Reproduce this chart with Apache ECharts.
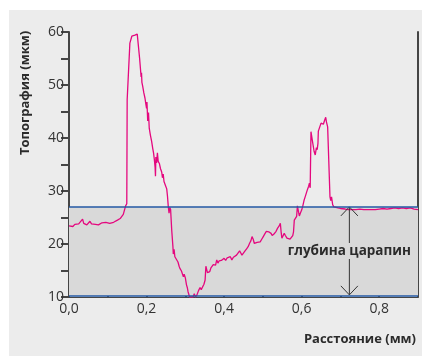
<!DOCTYPE html>
<html>
<head>
<meta charset="utf-8">
<script src="https://cdn.jsdelivr.net/npm/echarts@6/dist/echarts.min.js"></script>
<style>
html,body{margin:0;padding:0;background:#ffffff;}
#chart{width:422px;height:356px;}
</style>
</head>
<body>
<div id="chart"></div>
<script>
// ---- data ----
const xTitle = 'Расстояние (мм)';
const yTitle = 'Топография (мкм)';
const depthLabel = 'глубина царапин';

const distance = [
0.000,0.005,0.010,0.015,0.020,0.025,0.030,0.035,0.038,0.042,0.046,0.050,0.054,0.058,0.063,0.068,0.072,0.076,0.080,0.085,
0.090,0.095,0.100,0.105,0.110,0.115,0.120,0.125,0.128,0.132,0.136,0.140,0.143,0.146,0.149,0.150,0.157,0.160,0.162,0.166,
0.170,0.173,0.176,0.179,0.181,0.182,0.186,0.187,0.188,0.190,0.193,0.196,0.198,0.200,0.201,0.203,0.205,0.207,0.210,0.213,
0.216,0.218,0.220,0.222,0.223,0.224,0.226,0.228,0.230,0.233,0.236,0.239,0.241,0.243,0.245,0.249,0.252,0.254,0.256,0.258,
0.260,0.262,0.265,0.268,0.269,0.271,0.273,0.276,0.278,0.281,0.284,0.286,0.288,0.290,0.293,0.295,0.297,0.300,0.303,0.305,
0.307,0.309,0.311,0.315,0.320,0.323,0.326,0.330,0.334,0.338,0.341,0.345,0.348,0.351,0.353,0.355,0.357,0.360,0.363,0.366,
0.369,0.372,0.375,0.378,0.381,0.384,0.387,0.390,0.393,0.396,0.400,0.404,0.408,0.412,0.416,0.420,0.424,0.428,0.432,0.436,
0.440,0.443,0.446,0.450,0.454,0.458,0.462,0.466,0.469,0.472,0.475,0.478,0.481,0.485,0.489,0.493,0.497,0.501,0.505,0.509,
0.512,0.515,0.518,0.521,0.524,0.527,0.530,0.534,0.538,0.542,0.545,0.547,0.549,0.552,0.555,0.558,0.562,0.566,0.570,0.574,
0.577,0.579,0.581,0.584,0.587,0.589,0.592,0.594,0.597,0.600,0.603,0.606,0.609,0.612,0.615,0.618,0.620,0.622,0.624,0.628,
0.632,0.635,0.638,0.640,0.642,0.643,0.646,0.648,0.650,0.653,0.656,0.659,0.662,0.664,0.667,0.672,0.673,0.675,0.677,0.680,
0.683,0.688,0.694,0.700,0.705,0.712,0.720,0.730,0.740,0.750,0.755,0.760,0.770,0.775,0.780,0.790,0.800,0.805,0.810,0.815,
0.820,0.825,0.830,0.835,0.840,0.845,0.850,0.855,0.860,0.865,0.870,0.875,0.880,0.885,0.890,0.895,0.900
];
const topography = [
23.4,23.6,23.3,23.7,23.4,23.8,23.6,24.7,23.9,23.7,23.6,23.9,24.3,23.8,23.5,23.7,23.8,23.6,23.9,24.0,
23.9,24.1,24.0,23.9,24.2,24.1,24.3,24.5,24.2,24.8,25.0,25.6,25.9,27.2,27.6,47.2,57.9,57.9,59.2,59.0,
59.4,59.1,59.6,59.3,59.6,55.1,51.5,52.3,50.5,49.8,48.5,47.5,46.5,45.6,46.8,43.2,44.8,41.8,40.5,39.4,
38.0,37.2,36.0,34.5,32.8,36.4,35.3,37.2,35.6,35.2,34.2,33.6,32.5,33.2,31.8,31.0,30.4,29.0,27.1,25.8,
26.9,26.5,22.5,19.5,18.1,19.0,17.6,17.4,17.5,16.6,15.8,15.4,15.7,14.9,14.7,13.8,14.3,13.6,12.3,11.8,
11.0,10.8,10.0,10.0,10.0,10.6,10.0,10.4,11.2,11.8,11.4,11.6,12.4,13.2,15.8,16.0,14.6,14.3,14.8,15.5,
15.3,16.1,16.4,16.0,17.0,16.4,16.8,16.5,16.9,16.6,17.3,16.9,17.4,17.1,17.6,17.0,17.5,17.3,17.9,18.1,
18.7,18.3,17.9,18.2,18.7,19.1,19.5,20.2,20.6,21.4,20.9,20.1,19.8,20.3,20.6,20.4,20.9,21.4,21.9,22.4,
22.7,22.3,22.6,22.0,21.6,21.3,22.0,22.4,23.0,23.4,23.9,22.3,21.1,21.4,22.0,21.6,21.1,20.8,20.9,21.0,
21.6,22.3,24.5,24.8,25.2,27.2,26.0,25.3,25.9,26.4,27.2,28.2,28.9,29.6,30.3,30.9,31.5,30.6,41.2,39.3,
37.5,36.8,38.2,37.8,39.0,41.3,41.5,41.4,42.8,42.7,42.6,43.3,43.9,43.0,42.1,41.9,28.9,28.2,28.9,27.4,
27.0,26.9,26.8,26.7,26.5,26.6,26.5,26.5,26.5,26.6,26.4,26.5,26.5,26.7,26.5,26.5,26.6,26.4,26.7,26.5,
26.6,26.4,26.7,26.5,26.8,26.5,26.7,26.4,26.8,26.5,26.7,26.6,26.8,26.5,26.6,26.7,26.5
];
const bandLow = 10.2;      // bottom reference line (мкм)
const bandHigh = 27;       // top reference line (мкм)
const arrowX = 0.723;      // position of the depth arrow (мм)
const arrowTop = 27;
const arrowBottom = 10.4;
const labelY = 18.7;

const xMin = 0, xMax = 0.9, xStep = 0.1;
const yMin = 10, yMax = 60, yStep = 5;

// ---- chart ----
const FONT = '"Open Sans", "Noto Sans", sans-serif';
const AXIS = '#454545';
const chart = echarts.init(document.getElementById('chart'), null, {renderer: 'canvas'});
const lineData = distance.map((d, i) => [d, topography[i]]);

chart.setOption({
  animation: false,
  graphic: [
    {type: 'rect', z: -100, shape: {x: 9, y: 10, width: 413, height: 346}, style: {fill: '#ececec'}},
    {type: 'text', x: 25, y: 93, rotation: Math.PI / 2,
      style: {text: yTitle, fill: '#2b2b2b', font: 'bold 13px ' + FONT, align: 'center', verticalAlign: 'middle'}},
    {type: 'text', x: 416, y: 339,
      style: {text: xTitle, fill: '#2b2b2b', font: 'bold 13px ' + FONT, align: 'right', verticalAlign: 'middle'}}
  ],
  grid: {left: 69, right: 4, top: 32, bottom: 59, containLabel: false},
  xAxis: {
    type: 'value', min: xMin, max: xMax, interval: xStep,
    axisLine: {show: true, lineStyle: {color: AXIS, width: 1}},
    axisTick: {show: true, inside: true, length: 5, lineStyle: {color: AXIS, width: 2}},
    axisLabel: {
      margin: 5, color: '#333', fontSize: 14, fontFamily: FONT,
      formatter: v => (Math.round(v * 10) % 2 === 0) ? (Math.round(v * 10) / 10).toFixed(1).replace('.', ',') : '',
      showMaxLabel: false
    },
    splitLine: {show: false}
  },
  yAxis: [
    {
      type: 'value', min: yMin, max: yMax, interval: yStep,
      axisLine: {show: true, lineStyle: {color: AXIS, width: 2}},
      axisTick: {show: true, inside: false, length: 8, lineStyle: {color: AXIS, width: 2}},
      axisLabel: {margin: 5, color: '#333', fontSize: 14, fontFamily: FONT,
        formatter: v => (v % 10 === 0) ? String(v) : ''},
      splitLine: {show: false}
    },
    {
      type: 'value', position: 'right', min: yMin, max: yMax, interval: yStep,
      axisLine: {show: true, lineStyle: {color: AXIS, width: 2}},
      axisTick: {show: false}, axisLabel: {show: false}, splitLine: {show: false}
    }
  ],
  series: [
    {
      type: 'line', data: [], z: 1, silent: true,
      markArea: {silent: true, itemStyle: {color: '#d9d9d9'},
        data: [[{yAxis: bandLow}, {yAxis: bandHigh}]]},
      markLine: {silent: true, symbol: ['none', 'none'], label: {show: false},
        lineStyle: {color: '#2358a4', width: 1.5, type: 'solid'},
        data: [{yAxis: bandHigh}, {yAxis: bandLow}]}
    },
    {
      type: 'line', data: lineData, z: 3, showSymbol: false, smooth: false,
      lineStyle: {color: '#e4087e', width: 1.3},
      itemStyle: {color: '#e4087e'}
    },
    {
      type: 'custom', z: 4, silent: true,
      data: [[arrowX, arrowTop, arrowBottom, labelY]],
      renderItem: function (params, api) {
        const t = api.coord([api.value(0), api.value(1)]);
        const b = api.coord([api.value(0), api.value(2)]);
        const l = api.coord([api.value(0), api.value(3)]);
        const st = {stroke: '#333', lineWidth: 1, fill: null};
        return {type: 'group', children: [
          {type: 'line', shape: {x1: t[0], y1: t[1], x2: b[0], y2: b[1]}, style: st},
          {type: 'polyline', shape: {points: [[t[0] - 8.5, t[1] + 9], [t[0], t[1]], [t[0] + 8.5, t[1] + 9]]}, style: st},
          {type: 'polyline', shape: {points: [[b[0] - 8.5, b[1] - 9], [b[0], b[1]], [b[0] + 8.5, b[1] - 9]]}, style: st},
          {type: 'text', x: l[0], y: l[1], style: {text: depthLabel, font: 'bold 13.5px ' + FONT, fill: '#2b2b2b',
            align: 'center', verticalAlign: 'middle', backgroundColor: '#d9d9d9', padding: [1, 2]}}
        ]};
      }
    }
  ]
});
</script>
</body>
</html>
